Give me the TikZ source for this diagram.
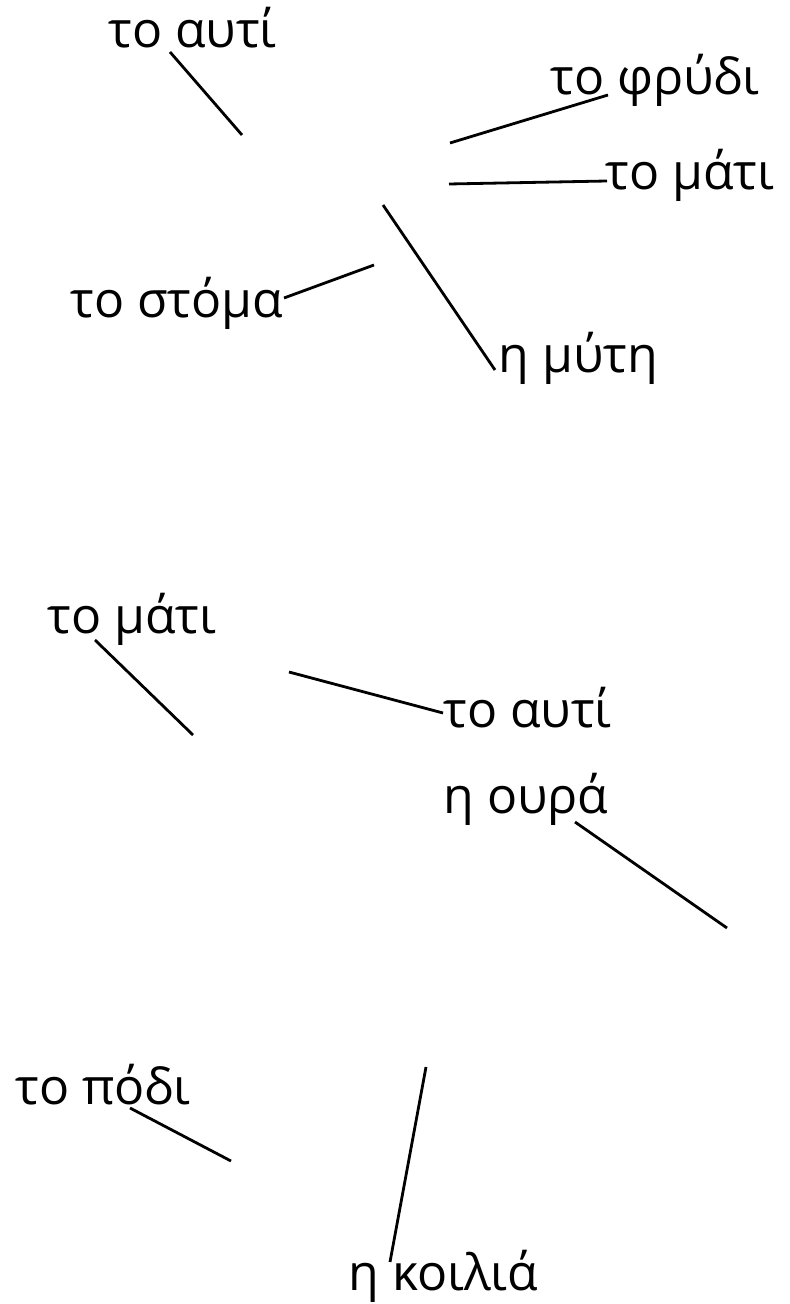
\documentclass[tikz,border=0pt]{standalone}
\usepackage{fontspec}
\setmainfont{Open Sans}
\tikzset{
  lbl/.style={inner sep=0pt, anchor=base west, font=\fontsize{25}{30}\selectfont},
  ptr/.style={line width=1.4pt},
}
\begin{document}
\begin{tikzpicture}[x=0.5pt,y=-0.5pt]
    \useasboundingbox (0,0) rectangle (789,1304);

    % face
    \node[lbl] (avti) at (108,48) {το αυτί};
    \node[lbl] (frydi) at (550,95) {το φρύδι};
    \node[lbl] (mati) at (605,190) {το μάτι};
    \node[lbl] (stoma) at (70,318) {το στόμα};
    \node[lbl] (myti) at (498,373) {η μύτη};

    \coordinate (avti-tip) at (242,135);
    \coordinate (avti-end) at (170,52);
    \coordinate (frydi-tip) at (450,143);
    \coordinate (frydi-end) at (608,95);
    \coordinate (mati-tip) at (449,184);
    \coordinate (mati-end) at (607,181);
    \coordinate (stoma-tip) at (374,265);
    \coordinate (stoma-end) at (284,298);
    \coordinate (myti-tip) at (383,205);
    \coordinate (myti-end) at (495,370);

    \draw[ptr] (avti-end)--(avti-tip);
    \draw[ptr] (frydi-tip)--(frydi-end);
    \draw[ptr] (mati-tip)--(mati-end);
    \draw[ptr] (stoma-end)--(stoma-tip);
    \draw[ptr] (myti-tip)--(myti-end);

    % animal
    \node[lbl] (mati2) at (47,633) {το μάτι};
    \node[lbl] (avti2) at (443,727) {το αυτί};
    \node[lbl] (oura) at (443,813) {η ουρά};
    \node[lbl] (podi) at (15,1104) {το πόδι};
    \node[lbl] (koilia) at (348,1290) {η κοιλιά};

    \coordinate (mati2-end) at (95,640);
    \coordinate (mati2-tip) at (193,735);
    \coordinate (avti2-tip) at (289,672);
    \coordinate (avti2-end) at (443,713);
    \coordinate (oura-end) at (575,822);
    \coordinate (oura-tip) at (727,928);
    \coordinate (podi-end) at (130,1108);
    \coordinate (podi-tip) at (231,1161);
    \coordinate (koilia-tip) at (426,1067);
    \coordinate (koilia-end) at (390,1262);

    \draw[ptr] (mati2-end)--(mati2-tip);
    \draw[ptr] (avti2-tip)--(avti2-end);
    \draw[ptr] (oura-end)--(oura-tip);
    \draw[ptr] (podi-end)--(podi-tip);
    \draw[ptr] (koilia-tip)--(koilia-end);
\end{tikzpicture}
\end{document}
